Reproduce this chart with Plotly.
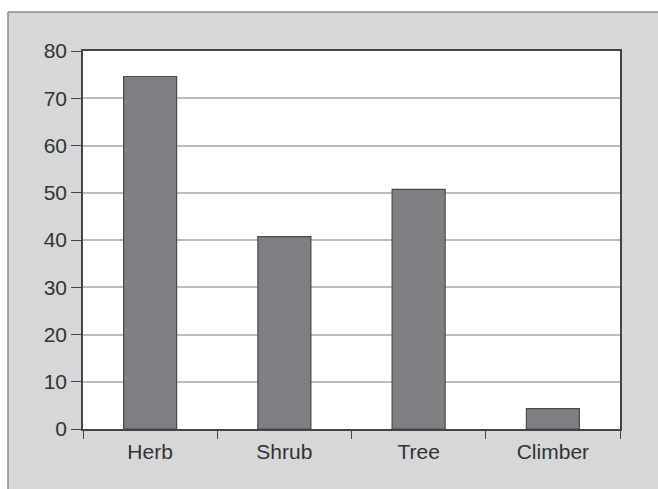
import plotly.graph_objects as go

categories = ["Herb", "Shrub", "Tree", "Climber"]
values = [74.6, 40.7, 50.7, 4.3]
y_ticks = [0, 10, 20, 30, 40, 50, 60, 70, 80]

W, H = 658, 489
L, R, T, B = 83, 38, 51, 60
pw, ph = W - L - R, H - T - B

def px_x(p):
    return (p - L) / pw

def px_y(p):
    return (H - B - p) / ph

fig = go.Figure(go.Bar(
    x=categories, y=values,
    marker=dict(color="#7e7f83", line=dict(color="#4a4a4a", width=1.2)),
    width=0.395,
))

gray = "#d6d7d9"
shapes = [
    dict(type="rect", xref="paper", yref="paper", x0=px_x(-5), x1=px_x(W + 5), y0=px_y(12), y1=px_y(-5),
         fillcolor="white", line=dict(width=0), layer="below"),
    dict(type="rect", xref="paper", yref="paper", x0=px_x(-5), x1=px_x(8), y0=px_y(H + 5), y1=px_y(-5),
         fillcolor="white", line=dict(width=0), layer="below"),
    dict(type="line", xref="paper", yref="paper", x0=px_x(8), x1=px_x(W + 5), y0=px_y(12), y1=px_y(12),
         line=dict(color="#8c8c8c", width=1.5), layer="below"),
    dict(type="line", xref="paper", yref="paper", x0=px_x(8), x1=px_x(8), y0=px_y(12), y1=px_y(H + 5),
         line=dict(color="#8c8c8c", width=1.5), layer="below"),
]

fig.update_layout(
    width=W, height=H,
    margin=dict(l=L, r=R, t=T, b=B),
    paper_bgcolor=gray,
    plot_bgcolor="white",
    font=dict(family="Liberation Sans, Arial, sans-serif", size=21, color="#333333"),
    showlegend=False,
    shapes=shapes,
    xaxis=dict(
        tickson="boundaries", ticks="outside", ticklen=8, tickwidth=1.2, tickcolor="#444444",
        showgrid=False, showline=True, linecolor="#444444", linewidth=1.5, mirror=True,
        tickfont=dict(size=21), ticklabelstandoff=3,
    ),
    yaxis=dict(
        range=[0, 80], tickvals=y_ticks, ticks="outside", ticklen=10, tickwidth=1.2, tickcolor="#444444",
        showgrid=True, gridcolor="#bdbdbd", gridwidth=1.5, zeroline=False,
        showline=True, linecolor="#444444", linewidth=1.5, mirror=True,
    ),
)

fig.write_html(
    "out.html",
    config={"displayModeBar": False},
    post_script="document.body.style.margin='0';document.body.style.overflow='hidden';",
)
